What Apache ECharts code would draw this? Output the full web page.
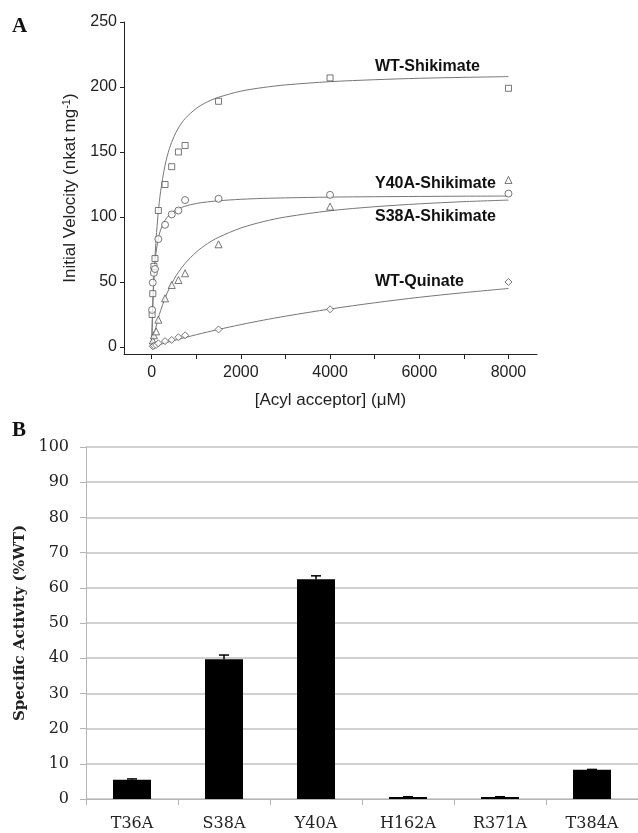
<!DOCTYPE html>
<html>
<head>
<meta charset="utf-8">
<script src="https://cdn.jsdelivr.net/npm/echarts@6/dist/echarts.min.js"></script>
<style>
html,body{margin:0;padding:0;background:#fff;}
#chart{width:638px;height:833px;}
</style>
</head>
<body>
<div id="chart"></div>
<script>
// ---------- Panel A data ----------
var wtShikX = [10, 25, 50, 75, 150, 300, 450, 600, 750, 1500, 4000, 8000];
var wtShikY = [25, 41, 62, 68, 105, 125, 138.7, 150, 155, 189, 207, 199];
var y40ShikX = [10, 25, 50, 75, 150, 300, 450, 600, 750, 1500, 4000, 8000];
var y40ShikY = [28.5, 49.5, 57, 60, 83, 94, 102, 105, 113, 114, 117, 118];
var s38ShikX = [25, 50, 100, 150, 300, 450, 600, 750, 1500, 4000, 8000];
var s38ShikY = [5, 9, 12, 21, 37.4, 47.7, 51.5, 56.7, 79, 108, 128.5];
var wtQuinX = [25, 50, 100, 150, 300, 450, 600, 750, 1500, 4000, 8000];
var wtQuinY = [0.5, 1, 1.5, 2.8, 4.5, 5.4, 7.5, 9, 13.5, 29, 50];

// fitted curves
var curveX = [0, 25, 50, 75, 100, 150, 200, 300, 400, 500, 600, 750, 1000, 1250, 1500, 2000, 2500, 3000, 4000, 5000, 6000, 7000, 8000];
var wtShikCurve = [0, 29.4, 51.7, 69.1, 83.1, 104.3, 119.4, 139.8, 152.8, 161.8, 168.5, 175.7, 183.5, 188.6, 192.1, 196.8, 199.6, 201.6, 204.1, 205.6, 206.7, 207.4, 208.0];
var y40ShikCurve = [0, 34.4, 53.2, 65, 73.1, 83.6, 90, 97.5, 101.7, 104.5, 106.4, 108.3, 110.4, 111.6, 112.5, 113.6, 114.3, 114.7, 115.3, 115.6, 115.8, 116.0, 116.1];
var s38ShikCurve = [0, 4.35, 8.4, 12.2, 15.7, 22.2, 27.9, 37.6, 45.5, 52.0, 57.5, 64.3, 73.0, 79.5, 84.4, 91.5, 96.4, 100.0, 104.8, 107.9, 110.1, 111.8, 113.0];
var wtQuinCurve = [0, 0.26, 0.52, 0.78, 1.03, 1.54, 2.05, 3.04, 4.0, 4.96, 5.89, 7.25, 9.44, 11.5, 13.5, 17.2, 20.6, 23.7, 29.2, 34.0, 38.2, 41.8, 45.0];

var xLabelTicks = [0, 2000, 4000, 6000, 8000];
var xMinorTicks = [0, 1000, 2000, 3000, 4000, 5000, 6000, 7000, 8000];
var yTicksA = [0, 50, 100, 150, 200, 250];

// ---------- Panel B data ----------
var mutants = ['T36A', 'S38A', 'Y40A', 'H162A', 'R371A', 'T384A'];
var activity = [5.5, 39.7, 62.4, 0.6, 0.6, 8.3];
var activityErr = [0.2, 1.2, 1.0, 0.05, 0.05, 0.1];

function pairs(xs, ys) { return xs.map(function (x, i) { return [x, ys[i]]; }); }

var chart = echarts.init(document.getElementById('chart'), null, {renderer: 'canvas'});

var markerStyle = {color: '#fff', borderColor: '#555', borderWidth: 1};
var curveStyle = {color: '#777', width: 1};

function scatterSeries(name, xs, ys, symbol, size) {
  return {
    name: name, type: 'scatter', xAxisIndex: 0, yAxisIndex: 0,
    symbol: symbol, symbolSize: size, data: pairs(xs, ys),
    itemStyle: markerStyle, z: 3, silent: true
  };
}
function curveSeries(name, ys) {
  return {
    name: name, type: 'line', xAxisIndex: 0, yAxisIndex: 0,
    data: pairs(curveX, ys), smooth: 0.3, symbol: 'none',
    lineStyle: curveStyle, z: 2, silent: true
  };
}

var option = {
  animation: false,
  backgroundColor: '#fff',
  grid: [
    {left: 124, top: 22, right: 101, bottom: 479},
    {left: 86, top: 447, right: -8, bottom: 34}
  ],
  xAxis: [
    {
      type: 'value', gridIndex: 0, min: -620, max: 8640,
      name: '[Acyl acceptor] (\u03bcM)', nameLocation: 'middle', nameGap: 38,
      nameTextStyle: {fontFamily: 'Liberation Sans', fontSize: 17, color: '#222'},
      axisLine: {show: true, onZero: false, lineStyle: {color: '#222', width: 1}},
      axisTick: {show: true, inside: false, length: 5, customValues: xMinorTicks, lineStyle: {color: '#222'}},
      axisLabel: {customValues: xLabelTicks, formatter: function (v) { return String(v); },
        fontFamily: 'Liberation Sans', fontSize: 16, color: '#222', margin: 11},
      splitLine: {show: false}
    },
    {
      type: 'category', gridIndex: 1, data: mutants,
      axisLine: {show: true, lineStyle: {color: '#b5b5b5', width: 1}},
      axisTick: {show: true, length: 6, lineStyle: {color: '#b5b5b5'}},
      axisLabel: {fontFamily: 'DejaVu Serif', fontSize: 16, color: '#222', margin: 17},
      splitLine: {show: false}
    }
  ],
  yAxis: [
    {
      type: 'value', gridIndex: 0, min: -5.4, max: 250,
      name: '{n|Initial Velocity (nkat mg}{s|-1}{n|)}', nameLocation: 'middle', nameGap: 44,
      nameTextStyle: {
        fontFamily: 'Liberation Sans', fontSize: 17, color: '#222',
        rich: {
          n: {fontFamily: 'Liberation Sans', fontSize: 17, color: '#222'},
          s: {fontFamily: 'Liberation Sans', fontSize: 11, color: '#222', verticalAlign: 'top', padding: [0, 0, 8, 0]}
        }
      },
      axisLine: {show: true, onZero: false, lineStyle: {color: '#222', width: 1}},
      axisTick: {show: true, length: 4, customValues: yTicksA, lineStyle: {color: '#222'}},
      axisLabel: {customValues: yTicksA, fontFamily: 'Liberation Sans', fontSize: 16, color: '#222', margin: 7},
      splitLine: {show: false}
    },
    {
      type: 'value', gridIndex: 1, min: 0, max: 100, interval: 10,
      name: 'Specific Activity (%WT)', nameLocation: 'middle', nameGap: 54,
      nameTextStyle: {fontFamily: 'DejaVu Serif', fontWeight: 'bold', fontSize: 15, color: '#222'},
      axisLine: {show: true, lineStyle: {color: '#b5b5b5', width: 1}},
      axisTick: {show: true, length: 6, lineStyle: {color: '#b5b5b5'}},
      axisLabel: {fontFamily: 'DejaVu Serif', fontSize: 16, color: '#222', margin: 17},
      splitLine: {show: true, lineStyle: {color: '#c2c2c2', width: 1.5}}
    }
  ],
  series: [
    curveSeries('WT-Shikimate fit', wtShikCurve),
    curveSeries('Y40A-Shikimate fit', y40ShikCurve),
    curveSeries('S38A-Shikimate fit', s38ShikCurve),
    curveSeries('WT-Quinate fit', wtQuinCurve),
    scatterSeries('WT-Shikimate', wtShikX, wtShikY, 'rect', 6),
    scatterSeries('Y40A-Shikimate', y40ShikX, y40ShikY, 'circle', 7),
    scatterSeries('S38A-Shikimate', s38ShikX, s38ShikY, 'triangle', 7),
    scatterSeries('WT-Quinate', wtQuinX, wtQuinY, 'diamond', 7),
    {
      name: 'Specific Activity', type: 'bar', xAxisIndex: 1, yAxisIndex: 1,
      data: activity, barWidth: 38, itemStyle: {color: '#000'}, silent: true
    },
    {
      name: 'error', type: 'custom', xAxisIndex: 1, yAxisIndex: 1, silent: true, z: 5,
      data: activity.map(function (v, i) { return [i, v, activityErr[i]]; }),
      renderItem: function (params, api) {
        var i = api.value(0), v = api.value(1), e = api.value(2);
        var top = api.coord([i, v + e]);
        var mid = api.coord([i, v]);
        var hw = 5;
        return {
          type: 'group',
          children: [
            {type: 'line', shape: {x1: top[0], y1: top[1], x2: mid[0], y2: mid[1]}, style: {stroke: '#000', lineWidth: 1.5}},
            {type: 'line', shape: {x1: top[0] - hw, y1: top[1], x2: top[0] + hw, y2: top[1]}, style: {stroke: '#000', lineWidth: 1.5}}
          ]
        };
      }
    }
  ],
  graphic: [
    {type: 'text', left: 12, top: 16, style: {text: 'A', font: 'bold 21px "Liberation Serif"', fill: '#111'}},
    {type: 'text', left: 12, top: 420, style: {text: 'B', font: 'bold 21px "Liberation Serif"', fill: '#111'}},
    {type: 'text', left: 375, top: 59, style: {text: 'WT-Shikimate', font: 'bold 16px "Liberation Sans"', fill: '#111'}},
    {type: 'text', left: 375, top: 176, style: {text: 'Y40A-Shikimate', font: 'bold 16px "Liberation Sans"', fill: '#111'}},
    {type: 'text', left: 375, top: 209, style: {text: 'S38A-Shikimate', font: 'bold 16px "Liberation Sans"', fill: '#111'}},
    {type: 'text', left: 375, top: 274, style: {text: 'WT-Quinate', font: 'bold 16px "Liberation Sans"', fill: '#111'}}
  ]
};
chart.setOption(option);
</script>
</body>
</html>
